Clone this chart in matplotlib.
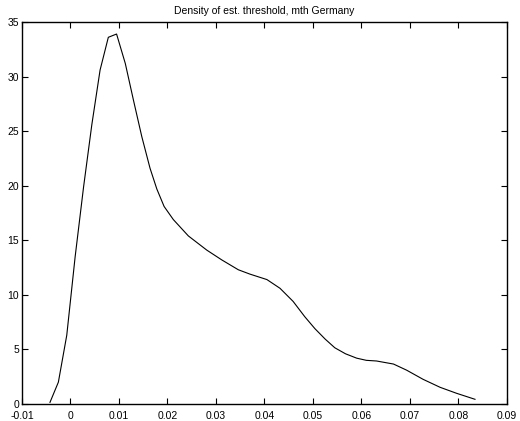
import matplotlib
matplotlib.use('Agg')
import matplotlib.pyplot as plt

# values
x = [-0.00423, -0.0025, -0.00077, 0.00096, 0.0027, 0.0044, 0.0061, 0.0078,
     0.0095, 0.0113, 0.0130, 0.0147, 0.0164, 0.0178, 0.0193, 0.0212, 0.0243,
     0.0281, 0.0312, 0.0346, 0.0370, 0.0405, 0.0432, 0.0459, 0.0483, 0.0504,
     0.0525, 0.0545, 0.0567, 0.0590, 0.0610, 0.0631, 0.0666, 0.0693, 0.0727,
     0.0762, 0.0796, 0.0834]
y = [0.15, 2.0, 6.3, 13.5, 19.9, 25.6, 30.6, 33.6,
     33.9, 31.2, 27.8, 24.5, 21.6, 19.7, 18.1, 16.9, 15.4,
     14.1, 13.2, 12.3, 11.9, 11.4, 10.6, 9.4, 8.0, 6.9,
     5.95, 5.15, 4.6, 4.2, 4.0, 3.94, 3.66, 3.1, 2.26,
     1.53, 0.98, 0.43]

xticks = [-0.01, 0, 0.01, 0.02, 0.03, 0.04, 0.05, 0.06, 0.07, 0.08, 0.09]
xticklabels = ['-0.01', '0', '0.01', '0.02', '0.03', '0.04', '0.05', '0.06', '0.07', '0.08', '0.09']
yticks = [0, 5, 10, 15, 20, 25, 30, 35]

plt.rcParams['font.family'] = ['Liberation Sans', 'DejaVu Sans']

fig = plt.figure(figsize=(5.2, 4.21), dpi=100)
ax = fig.add_axes([0.0423, 0.0404, 0.9327, 0.9073])
ax.plot(x, y, color='black', linewidth=0.8)
ax.set_xlim(-0.01, 0.09)
ax.set_ylim(0, 35)
ax.set_xticks(xticks)
ax.set_xticklabels(xticklabels)
ax.set_yticks(yticks)
ax.tick_params(direction='in', length=4, width=0.8, labelsize=7.5,
               top=True, right=True)
ax.tick_params(axis='x', pad=5)
ax.tick_params(axis='y', pad=2)
for s in ax.spines.values():
    s.set_linewidth(1.0)
ax.set_title('Density of est. threshold, mth Germany', fontsize=7.5, pad=6)

fig.savefig('out.png', dpi=100)
